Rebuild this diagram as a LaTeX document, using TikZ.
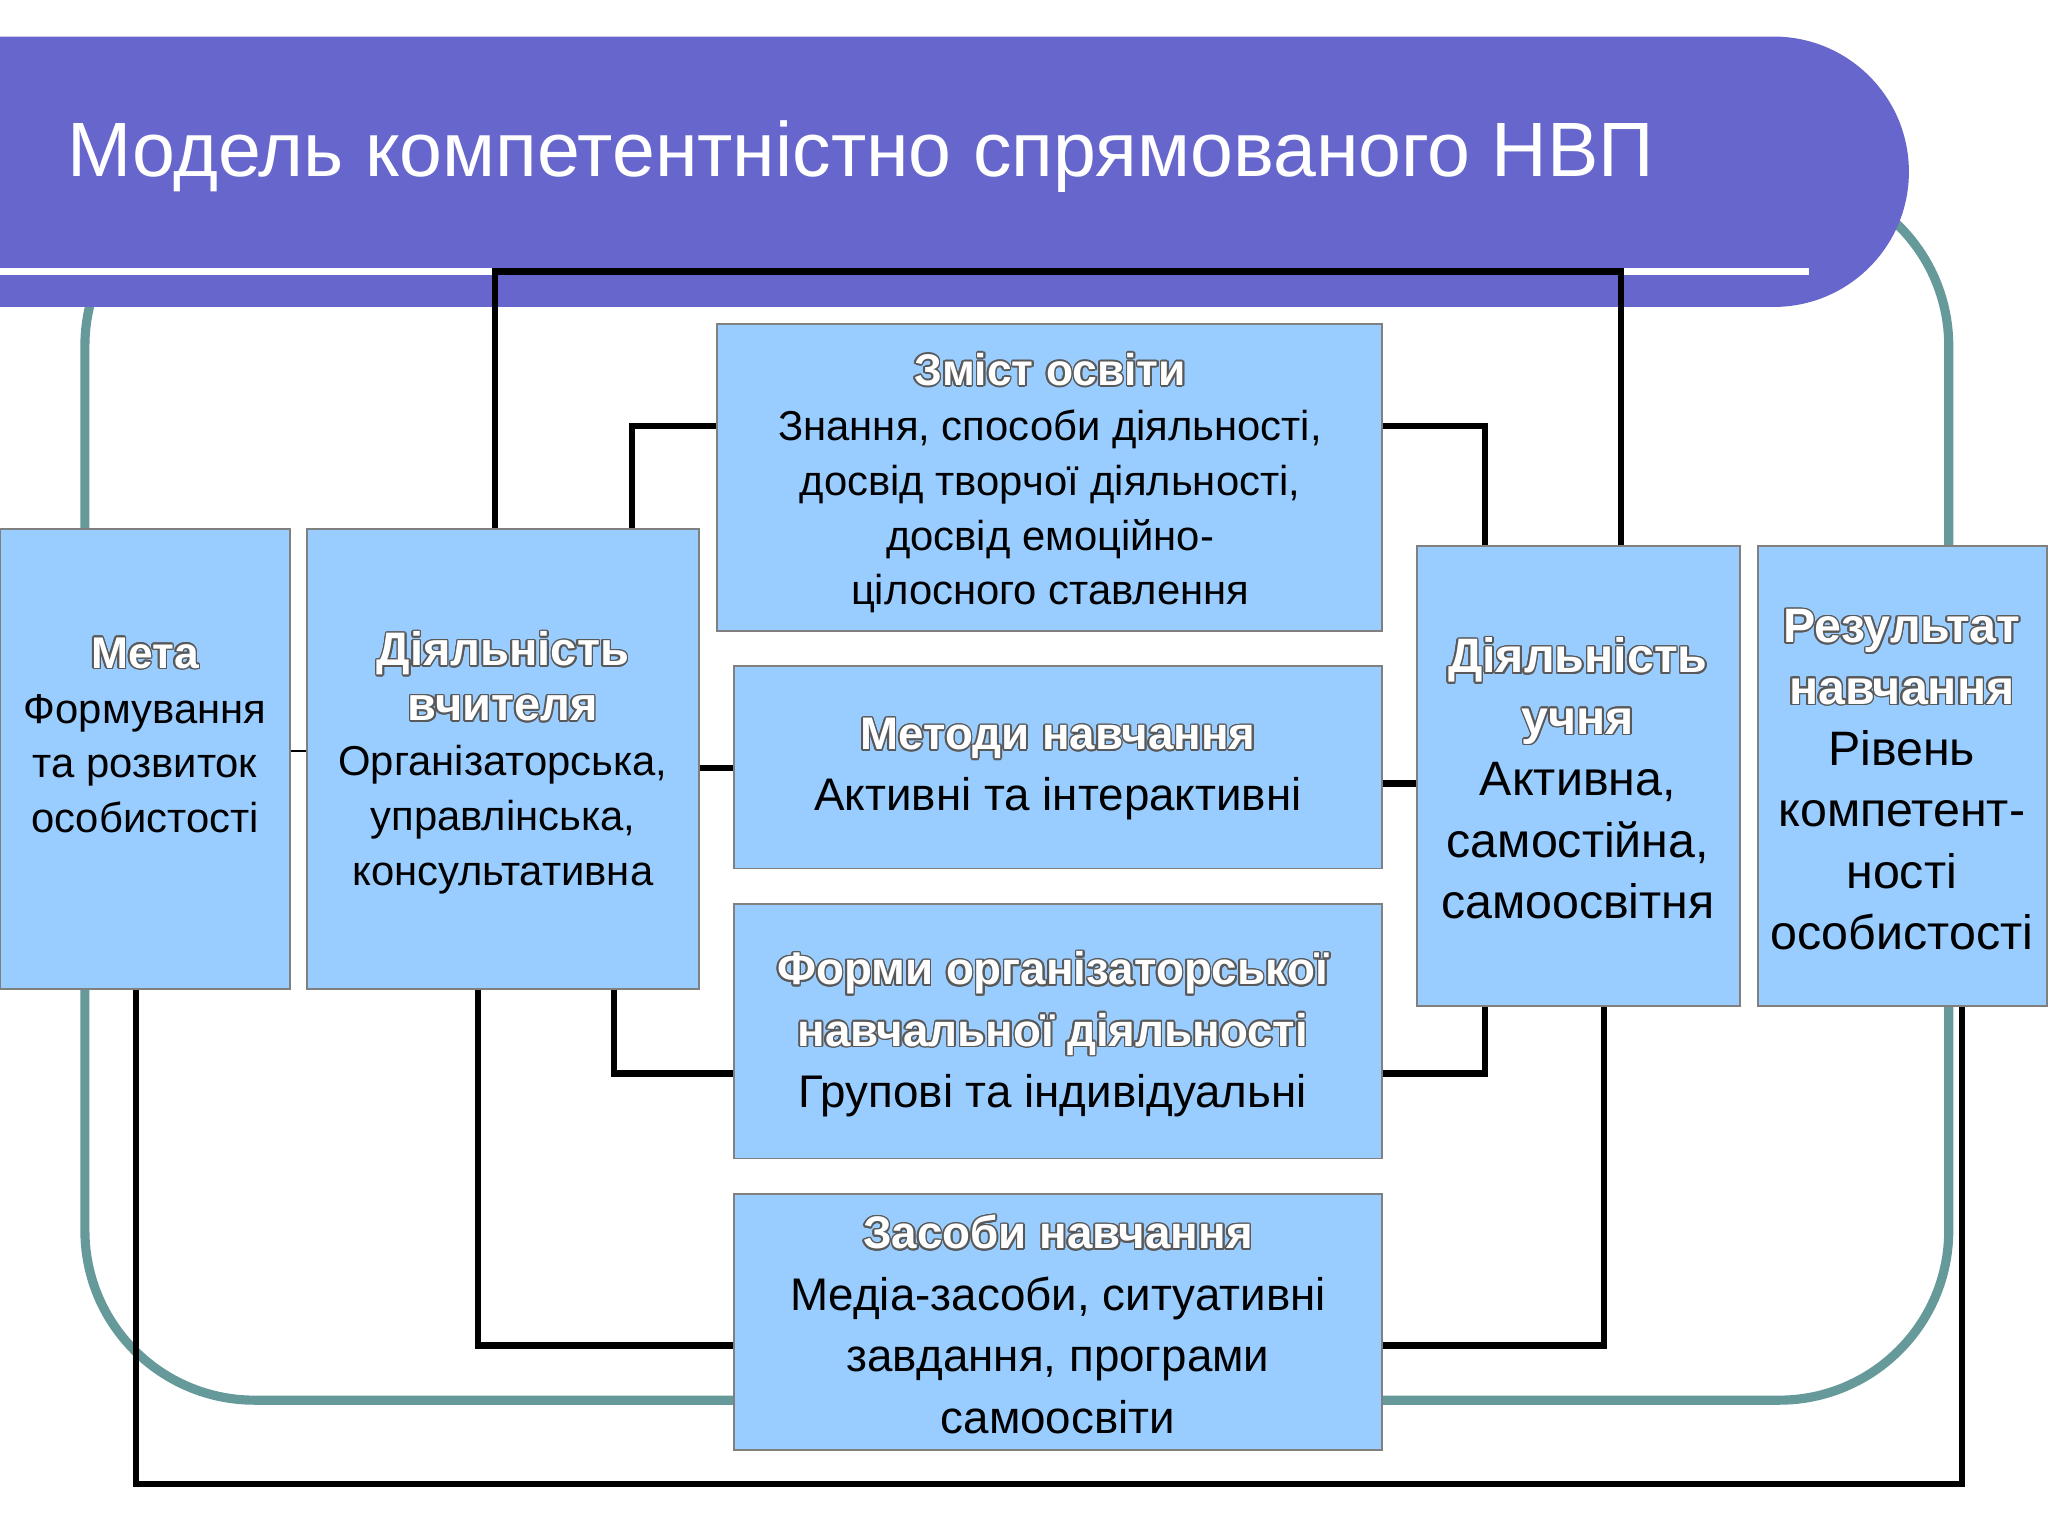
\documentclass[tikz,border=0pt]{standalone}
\usepackage{fontspec}
\setmainfont{Liberation Sans}
\usepackage{contour}
\contourlength{1.2pt}
\newcommand{\hd}[1]{\contour{black!65}{\textcolor{white}{\bfseries #1}}}
\begin{document}
\begin{tikzpicture}[x=1pt,y=-1pt,
 bx/.style={draw=black!50,fill=blueA,line width=1.2pt},
 conn/.style={draw=black,line width=5pt},
 tx/.style={align=center,font=\fontsize{32}{42}\selectfont,text=black,inner sep=0}]
\definecolor{blueA}{HTML}{99CCFF}
\definecolor{purp}{HTML}{6666CC}
\definecolor{teal2}{HTML}{669999}
\useasboundingbox (0,0) rectangle (1568,1176);
\fill[white] (0,0) rectangle (1568,1176);
% teal frame
\draw[teal2,line width=7pt,rounded corners=130pt] (65,135) rectangle (1492,1072);
% title band
\fill[purp] (0,28) -- (1358,28) arc[start angle=-90,end angle=90,radius=103.5] -- (0,235) -- cycle;
\draw[white,line width=5pt] (0,208) -- (1385,208);
\node[anchor=west,text=white,font=\fontsize{59}{60}\selectfont] (title) at (48,120) {Модель компетентністно спрямованого НВП};
% connectors
\coordinate (c1) at (379,208); \coordinate (c2) at (1241,208);
\draw[conn] (379,405) -- (c1) -- (c2) -- (1241,418);
\draw[conn] (484,405) -- (484,326) -- (549,326);
\draw[conn] (1058,326) -- (1137,326) -- (1137,418);
\draw[conn] (535,588) -- (562,588);
\draw[conn] (1058,600) -- (1085,600);
\draw[conn] (470,757) -- (470,822) -- (562,822);
\draw[conn] (1058,822) -- (1137,822) -- (1137,770);
\draw[conn] (366,757) -- (366,1030) -- (562,1030);
\draw[conn] (1058,1030) -- (1228,1030) -- (1228,770);
\draw[conn] (104,757) -- (104,1136) -- (1502,1136) -- (1502,770);
\draw[black,line width=1pt] (222,575) -- (235,575);
% boxes
\draw[bx] (0,405) rectangle (222,757);
\draw[bx] (235,405) rectangle (535,757);
\draw[bx] (549,248) rectangle (1058,483);
\draw[bx] (562,510) rectangle (1058,665);
\draw[bx] (562,692) rectangle (1058,887);
\draw[bx] (562,914) rectangle (1058,1110);
\draw[bx] (1085,418) rectangle (1332,770);
\draw[bx] (1346,418) rectangle (1567,770);
% texts
\node[tx] (meta) at (111,563) {\fontsize{34}{42}\selectfont\hd{Мета}\\Формування\\та розвиток\\особистості};
\node[tx] (vch) at (385,584) {\fontsize{36}{47}\selectfont\hd{Діяльність}\\\fontsize{36}{47}\selectfont\hd{вчителя}\\Організаторська,\\управлінська,\\консультативна};
\node[tx] (zm) at (804,370) {\fontsize{34}{42}\selectfont\hd{Зміст освіти}\\Знання, способи діяльності,\\досвід творчої діяльності,\\досвід емоційно-\\цілосного ставлення};
\node[tx,font=\fontsize{35}{47}\selectfont] (met) at (810,589) {\hd{Методи навчання}\\Активні та інтерактивні};
\node[tx,font=\fontsize{35}{47}\selectfont] (form) at (806,792) {\hd{Форми організаторської}\\\hd{навчальної діяльності}\\Групові та індивідуальні};
\node[tx,font=\fontsize{35}{47}\selectfont] (zas) at (810,1014) {\hd{Засоби навчання}\\Медіа-засоби, ситуативні\\завдання, програми\\самоосвіти};
\node[tx,font=\fontsize{37}{47}\selectfont] (uch) at (1208,596) {\hd{Діяльність}\\\hd{учня}\\Активна,\\самостійна,\\самоосвітня};
\node[tx,font=\fontsize{37}{47}\selectfont] (res) at (1456,597) {\hd{Результат}\\\hd{навчання}\\Рівень\\компетент-\\ності\\особистості};
\end{tikzpicture}
\end{document}
